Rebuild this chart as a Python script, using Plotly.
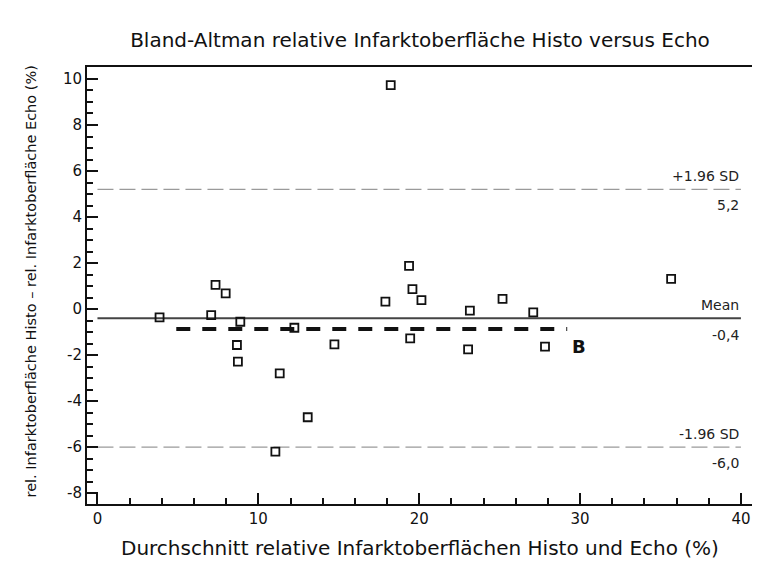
import plotly.graph_objects as go

# Data
avg_x = [18.23, 3.86, 7.34, 7.97, 7.07, 8.88, 8.67, 8.73, 12.24, 11.33, 13.07, 11.06,
         14.73, 17.90, 19.37, 19.58, 20.14, 19.44, 23.15, 25.18, 27.09, 23.04, 27.82, 35.66]
diff_y = [9.73, -0.36, 1.05, 0.68, -0.26, -0.55, -1.56, -2.28, -0.81, -2.79, -4.70, -6.19,
          -1.53, 0.32, 1.88, 0.87, 0.39, -1.27, -0.07, 0.44, -0.14, -1.75, -1.63, 1.31]

mean_diff = -0.4
upper_sd = 5.2
lower_sd = -6.0
line_x = [0, 40]
bias_b = -0.86
bias_b_x = [4.9, 29.2]

xticks = [0, 10, 20, 30, 40]
yticks = [10, 8, 6, 4, 2, 0, -2, -4, -6, -8]

FONT = "DejaVu Sans, Verdana, sans-serif"
INK = "#111111"

fig = go.Figure()

for yv in (upper_sd, lower_sd):
    fig.add_trace(go.Scatter(
        x=line_x, y=[yv, yv], mode="lines",
        line=dict(color="#9a9a9a", width=1.2, dash="16px,6px"), hoverinfo="skip"))
fig.add_trace(go.Scatter(
    x=line_x, y=[mean_diff, mean_diff], mode="lines",
    line=dict(color="#444444", width=2), hoverinfo="skip"))
fig.add_trace(go.Scatter(
    x=bias_b_x, y=[bias_b, bias_b], mode="lines",
    line=dict(color=INK, width=4, dash="14px,12px"), hoverinfo="skip"))

fig.add_trace(go.Scatter(
    x=avg_x, y=diff_y, mode="markers",
    marker=dict(symbol="square-open", size=8, color=INK,
                line=dict(color=INK, width=1.8))))

ann_font = dict(family=FONT, size=14, color="#222222")
anns = [
    ("+1.96 SD", upper_sd, "bottom", 3),
    ("5,2", upper_sd, "top", -6),
    ("Mean", mean_diff, "bottom", 3),
    ("-0,4", mean_diff, "top", -7),
    ("-1.96 SD", lower_sd, "bottom", 3),
    ("-6,0", lower_sd, "top", -6),
]
for text, yv, ya, ys in anns:
    fig.add_annotation(x=line_x[1], y=yv, text=text, showarrow=False,
                       xanchor="right", yanchor=ya, font=ann_font, yshift=ys)

fig.add_annotation(x=bias_b_x[1], y=bias_b, text="<b>B</b>", showarrow=False,
                   xanchor="left", yanchor="middle", xshift=3, yshift=-18,
                   font=dict(family=FONT, size=18, color=INK))

# axis titles
fig.add_annotation(xref="paper", yref="paper", x=0.5, y=0, xanchor="center", yanchor="middle",
                   yshift=-44, showarrow=False,
                   text="Durchschnitt relative Infarktoberflächen Histo und Echo (%)",
                   font=dict(family=FONT, size=20, color=INK))
fig.add_annotation(xref="paper", yref="paper", x=0, y=0.5, xanchor="center", yanchor="middle",
                   xshift=-57, yshift=4, textangle=-90, showarrow=False,
                   text="rel. Infarktoberfläche Histo – rel. Infarktoberfläche Echo (%)",
                   font=dict(family=FONT, size=14.5, color=INK))

fig.update_layout(
    width=760, height=571,
    margin=dict(l=79, r=15, t=59, b=75),
    paper_bgcolor="white", plot_bgcolor="white",
    showlegend=False,
    title=dict(text="Bland-Altman relative Infarktoberfläche Histo versus Echo",
               x=0.5, xref="paper", xanchor="center",
               y=1 - 32 / 571, yref="container", yanchor="middle",
               font=dict(family=FONT, size=20, color=INK)),
)

fig.update_xaxes(
    range=[-0.65, 40.75], tickmode="array", tickvals=xticks,
    ticktext=[str(v) for v in xticks],
    ticks="inside", ticklen=11, tickwidth=1.5, tickcolor=INK,
    minor=dict(tickmode="linear", tick0=0, dtick=2, ticks="inside", ticklen=6,
               tickwidth=1.5, tickcolor=INK, showgrid=False),
    showgrid=False, zeroline=False, automargin=False,
    showline=True, mirror=True, linewidth=2, linecolor=INK,
    tickfont=dict(family=FONT, size=15, color=INK),
)
fig.update_yaxes(
    range=[-8.47, 10.52], tickmode="array", tickvals=yticks,
    ticktext=[str(v) for v in yticks],
    ticks="inside", ticklen=11, tickwidth=1.5, tickcolor=INK,
    minor=dict(tickmode="linear", tick0=0, dtick=0.5, ticks="inside", ticklen=6,
               tickwidth=1.5, tickcolor=INK, showgrid=False),
    showgrid=False, zeroline=False, automargin=False,
    showline=True, mirror=True, linewidth=2, linecolor=INK,
    tickfont=dict(family=FONT, size=15, color=INK),
)

fig.write_html("out.html")
